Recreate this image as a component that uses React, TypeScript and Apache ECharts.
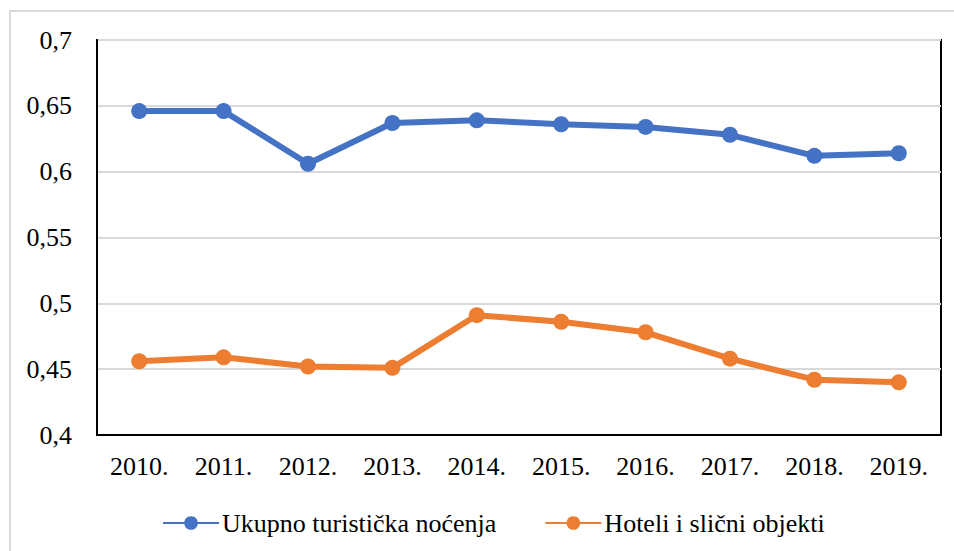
import React, { useEffect, useRef } from "react";
import * as echarts from "echarts";

const years = ["2010.", "2011.", "2012.", "2013.", "2014.", "2015.", "2016.", "2017.", "2018.", "2019."];
const ukupno = [0.646, 0.646, 0.606, 0.637, 0.639, 0.636, 0.634, 0.628, 0.612, 0.614];
const hoteli = [0.456, 0.459, 0.452, 0.451, 0.491, 0.486, 0.478, 0.458, 0.442, 0.44];
const seriesNames = ["Ukupno turistička noćenja", "Hoteli i slični objekti"];
const colors = ["#4472C4", "#ED7D31"];

const FONT = "Times New Roman, Liberation Serif, serif";

export default function App() {
  const ref = useRef<HTMLDivElement>(null);
  useEffect(() => {
    if (!ref.current) return;
    const chart = echarts.init(ref.current, null, { renderer: "svg" });
    chart.setOption({
      animation: false,
      backgroundColor: "#ffffff",
      textStyle: { fontFamily: FONT },
      graphic: [
        {
          type: "rect",
          shape: { x: 10, y: 11, width: 960, height: 560 },
          style: { fill: "none", stroke: "#d9d9d9", lineWidth: 2 },
          silent: true,
        },
      ],
      grid: {
        left: 97,
        top: 40,
        width: 844,
        height: 395,
        show: true,
        borderColor: "#000000",
        borderWidth: 2,
        backgroundColor: "transparent",
      },
      legend: {
        top: 505,
        left: 157,
        itemGap: 48,
        itemWidth: 56,
        itemHeight: 17,
        textStyle: { fontFamily: FONT, fontSize: 26, color: "#000", padding: [0, 0, 0, -2] },
        data: seriesNames,
      },
      xAxis: {
        type: "category",
        data: years,
        boundaryGap: true,
        axisLine: { show: true, lineStyle: { color: "#000", width: 2 } },
        axisTick: { show: false },
        axisLabel: { fontFamily: FONT, fontSize: 26, color: "#000", margin: 18 },
      },
      yAxis: {
        type: "value",
        min: 0.4,
        max: 0.7,
        interval: 0.05,
        axisLine: { show: true, lineStyle: { color: "#000", width: 2 } },
        axisTick: { show: false },
        splitLine: { lineStyle: { color: "#d9d9d9", width: 2 } },
        axisLabel: {
          fontFamily: FONT,
          fontSize: 26,
          color: "#000",
          margin: 25,
          formatter: (v: number) => String(Math.round(v * 100) / 100).replace(".", ","),
        },
      },
      series: [
        {
          name: seriesNames[0],
          type: "line",
          data: ukupno,
          color: colors[0],
          symbol: "circle",
          symbolSize: 16,
          lineStyle: { width: 6, color: colors[0] },
          itemStyle: { color: colors[0] },
        },
        {
          name: seriesNames[1],
          type: "line",
          data: hoteli,
          color: colors[1],
          symbol: "circle",
          symbolSize: 16,
          lineStyle: { width: 6, color: colors[1] },
          itemStyle: { color: colors[1] },
        },
      ],
    });
    return () => chart.dispose();
  }, []);
  return (
    <div
      ref={ref}
      style={{ position: "fixed", left: 0, top: 0, width: 954, height: 551, background: "#fff" }}
    />
  );
}
